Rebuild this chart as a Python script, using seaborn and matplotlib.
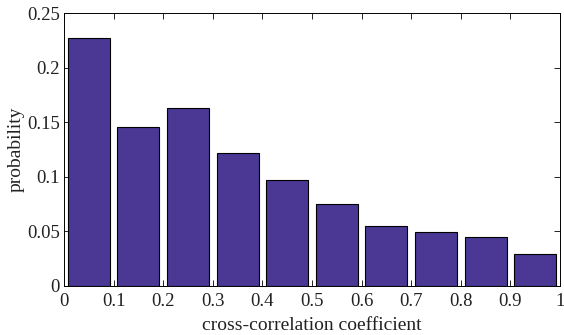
import matplotlib
matplotlib.use("Agg")
import matplotlib.pyplot as plt
import seaborn as sns
import pandas as pd

bin_centers = [0.05, 0.15, 0.25, 0.35, 0.45, 0.55, 0.65, 0.75, 0.85, 0.95]
probability = [0.227, 0.146, 0.163, 0.122, 0.097, 0.075, 0.055, 0.049, 0.045, 0.029]
x_ticks = [0, 0.1, 0.2, 0.3, 0.4, 0.5, 0.6, 0.7, 0.8, 0.9, 1]
x_tick_labels = ["0", "0.1", "0.2", "0.3", "0.4", "0.5", "0.6", "0.7", "0.8", "0.9", "1"]
y_ticks = [0, 0.05, 0.1, 0.15, 0.2, 0.25]
y_tick_labels = ["0", "0.05", "0.1", "0.15", "0.2", "0.25"]

df = pd.DataFrame({"x": bin_centers, "p": probability})

sns.set_theme(style="ticks")
plt.rcParams['font.family'] = ['Liberation Serif', 'DejaVu Serif']

fig = plt.figure(figsize=(5.64, 3.35), dpi=100)
ax = fig.add_axes([64/564, 1 - 286/335, (560-64)/564, (286-13)/335])

sns.barplot(data=df, x="x", y="p", native_scale=True, width=0.85,
            color="#4A3894", saturation=1, edgecolor="black", linewidth=0.8, ax=ax)

ax.set_xlim(0, 1)
ax.set_ylim(0, 0.25)
ax.set_xticks(x_ticks)
ax.set_xticklabels(x_tick_labels)
ax.set_yticks(y_ticks)
ax.set_yticklabels(y_tick_labels)
ax.tick_params(direction="in", top=True, right=True, length=4, width=0.6,
               labelsize=13.5, colors="black", labelcolor="#222222")
ax.tick_params(axis="x", pad=5)
ax.tick_params(axis="y", pad=3)
for s in ax.spines.values():
    s.set_visible(True)
    s.set_linewidth(0.7)
    s.set_color("black")
ax.set_xlabel("cross-correlation coefficient", fontsize=14, labelpad=5, color="#222222")
ax.set_ylabel("probability", fontsize=14, labelpad=2, color="#222222")

fig.savefig("out.png", dpi=100)
